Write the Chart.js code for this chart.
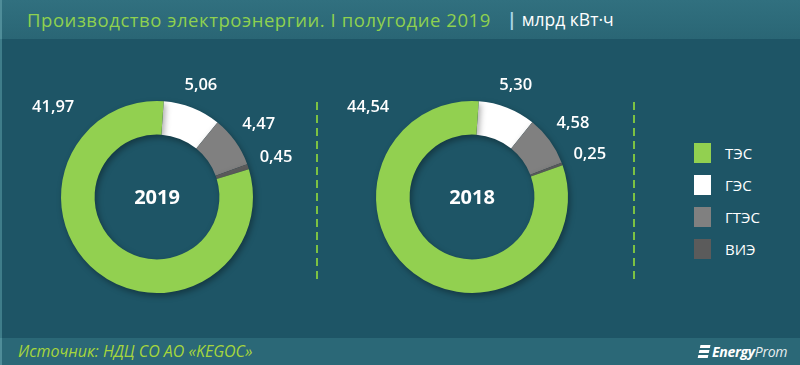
<!DOCTYPE html>
<html>
<head>
<meta charset="utf-8">
<script src="https://cdn.jsdelivr.net/npm/chart.js@4.4.1/dist/chart.umd.min.js"></script>
<style>
  html, body { margin: 0; padding: 0; background: #1e5566; }
  #wrap { position: relative; width: 800px; height: 365px; overflow: hidden; font-family: "Open Sans", sans-serif; }
  #title { position: absolute; left: 0; top: 0; width: 800px; height: 39px; background: linear-gradient(#31707f, #2a6675); border-left: 2px solid #4f8d99; box-sizing: border-box; }
  #title .t { position: absolute; left: 25px; top: 7px; color: #8fd14f; font-size: 18.5px; letter-spacing: 0.55px; white-space: nowrap; }
  #title .u { position: absolute; left: 505px; top: 7px; color: #ffffff; font-size: 17.5px; white-space: nowrap; }
  #title .u b { color: #a9d4e6; font-weight: 700; margin-right: 5px; }
  #panel { position: absolute; left: 0; top: 39px; width: 800px; height: 299px; background: #1e5566; border-left: 2px solid #3f7d8a; box-sizing: border-box; }
  .cell { position: absolute; top: 0; width: 310px; height: 299px; }
  .sep { position: absolute; top: 63px; width: 2px; height: 182px; background: repeating-linear-gradient(to bottom, #7cc242 0 8px, transparent 8px 13px); }
  #legend { position: absolute; left: 692px; top: 98px; }
  #legend .row { display: flex; align-items: center; height: 32px; color: #ffffff; font-size: 15px; }
  #legend .box { width: 17px; height: 20px; margin-right: 14px; }
  #footer { position: absolute; left: 0; top: 338px; width: 800px; height: 27px; background: #2b6877; border-left: 2px solid #4f8d99; box-sizing: border-box; }
  #footer .src { position: absolute; left: 16px; top: 2px; color: #a6d63c; font-size: 16px; font-style: italic; }
  #footer .logo { position: absolute; left: 697px; top: 4px; color: #ffffff; font-style: italic; font-size: 14px; white-space: nowrap; letter-spacing: -0.3px; }
  #footer .logo .ic { display: inline-block; width: 10px; height: 14px; margin-right: 3px; vertical-align: -2px; transform: skewX(-12deg);
    background: repeating-linear-gradient(to bottom, #ffffff 0 3px, transparent 3px 5px); }
  #footer .logo b { font-weight: 700; }
  #footer .logo span.p { font-weight: 400; color: #e8eef0; }
</style>
</head>
<body>
<div id="wrap">
  <div id="title">
    <span class="t">Производство электроэнергии. I полугодие 2019</span>
    <span class="u"><b>|</b>млрд кВт·ч</span>
  </div>
  <div id="panel">
    <div class="cell" style="left:0px"><canvas id="chart2019"></canvas></div>
    <div class="sep" style="left:314px"></div>
    <div class="cell" style="left:315px"><canvas id="chart2018"></canvas></div>
    <div class="sep" style="left:631px"></div>
    <div id="legend"></div>
  </div>
  <div id="footer">
    <span class="src">Источник: НДЦ СО АО «KEGOC»</span>
    <span class="logo"><span class="ic"></span><b>Energy</b><span class="p">Prom</span></span>
  </div>
</div>

<script>
// ================= DATA =================
const categories = ['ТЭС', 'ГЭС', 'ГТЭС', 'ВИЭ'];
const colors = ['#92d050', '#ffffff', '#808080', '#5b5b5b'];
const years = ['2019', '2018'];
const values2019 = [41.97, 5.06, 4.47, 0.45];
const values2018 = [44.54, 5.30, 4.58, 0.25];

// slice order on the ring: ГЭС, ГТЭС, ВИЭ from the top, then ТЭС
const ringOrder = [1, 2, 3, 0];

function fmt(v) {
    return v.toFixed(2).replace('.', ',');
}

// ================= LEGEND =================
const legend = document.getElementById('legend');
categories.forEach(function (name, i) {
    const row = document.createElement('div');
    row.className = 'row';
    row.innerHTML = '<span class="box" style="background:' + colors[i] + '"></span>' + name;
    legend.appendChild(row);
});

// ================= PLUGINS =================
const shadowPlugin = {
    id: 'ringShadow',
    beforeDatasetsDraw(chart) {
        const ctx = chart.ctx;
        ctx.save();
        ctx.shadowColor = 'rgba(0,0,0,0.35)';
        ctx.shadowBlur = 6;
        ctx.shadowOffsetX = 2;
        ctx.shadowOffsetY = 3;
    },
    afterDatasetsDraw(chart) {
        chart.ctx.restore();
    }
};

const labelPlugin = {
    id: 'ringLabels',
    afterDraw(chart) {
        const ctx = chart.ctx;
        const meta = chart.getDatasetMeta(0);
        const data = chart.data.datasets[0].data;
        ctx.save();
        ctx.fillStyle = '#ffffff';
        ctx.textAlign = 'center';
        ctx.textBaseline = 'middle';
        ctx.font = '600 16.5px "Open Sans"';
        meta.data.forEach(function (arc, i) {
            const p = arc.getProps(['x', 'y', 'startAngle', 'endAngle', 'outerRadius'], true);
            const txt = fmt(data[i]);
            const w = ctx.measureText(txt).width;
            let a, d;
            if (p.endAngle - p.startAngle > Math.PI) {
                a = p.endAngle - 0.93;
                d = p.outerRadius + 41;
            } else {
                a = (p.startAngle + p.endAngle) / 2;
                d = p.outerRadius + 12 + Math.abs(Math.cos(a)) * w / 2 + Math.abs(Math.sin(a)) * 6;
            }
            ctx.fillText(txt, p.x + Math.cos(a) * d, p.y + Math.sin(a) * d);
        });
        // year in the middle
        const c = meta.data[0];
        ctx.font = '700 20px "Open Sans"';
        ctx.fillText(chart.options.plugins.ringLabels.year, c.x, c.y + 1);
        ctx.restore();
    }
};

// ================= DONUTS =================
function makeDonut(id, year, values) {
    new Chart(document.getElementById(id), {
        type: 'doughnut',
        data: {
            labels: ringOrder.map(i => categories[i]),
            datasets: [{
                data: ringOrder.map(i => values[i]),
                backgroundColor: ringOrder.map(i => colors[i]),
                borderWidth: 0
            }]
        },
        options: {
            responsive: false,
            animation: false,
            cutout: '65%',
            rotation: 4,
            layout: { padding: { left: 59, right: 59, top: 62, bottom: 45 } },
            plugins: {
                legend: { display: false },
                tooltip: { enabled: false },
                ringLabels: { year: year }
            }
        },
        plugins: [shadowPlugin, labelPlugin]
    });
}

document.getElementById('chart2019').width = 310;
document.getElementById('chart2019').height = 299;
document.getElementById('chart2018').width = 310;
document.getElementById('chart2018').height = 299;

makeDonut('chart2019', years[0], values2019);
makeDonut('chart2018', years[1], values2018);
</script>
</body>
</html>
